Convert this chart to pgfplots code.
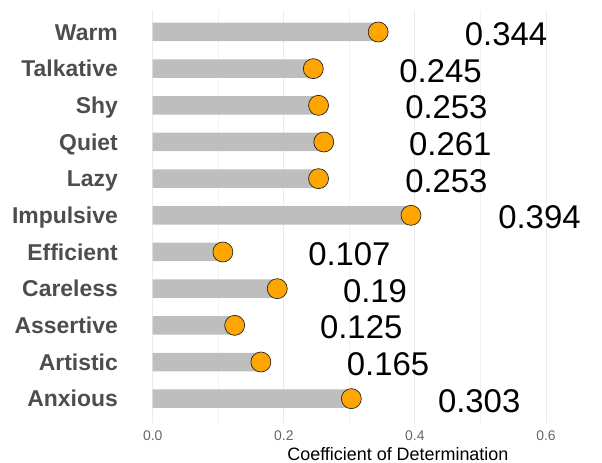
\documentclass[border=0pt]{standalone}
\usepackage{pgfplots}
\pgfplotsset{compat=1.18}
\usepackage{pgfplotstable}
\usepackage{fontspec}
\setmainfont{Liberation Sans}
\definecolor{bargray}{HTML}{BEBEBE}
\definecolor{dotorange}{HTML}{FFA500}
\definecolor{labgray}{HTML}{4D4D4D}
\definecolor{tickgray}{HTML}{666666}
\definecolor{gridgray}{HTML}{EBEBEB}
\pgfplotstableread{
y val labx lab
11 0.344 0.476 0.344
10 0.245 0.376 0.245
9 0.253 0.385 0.253
8 0.261 0.391 0.261
7 0.253 0.385 0.253
6 0.394 0.527 0.394
5 0.107 0.237 0.107
4 0.190 0.290 0.19
3 0.125 0.255 0.125
2 0.165 0.296 0.165
1 0.303 0.435 0.303
}\datatable
\begin{document}
\begin{tikzpicture}
\begin{axis}[
  scale only axis,
  width=473.5bp, height=412.5bp,
  xmin=-0.037, xmax=0.6855,
  ymin=0.35, ymax=11.6,
  clip=false,
  axis line style={draw=none},
  tick style={draw=none},
  xtick={0,0.2,0.4,0.6},
  xticklabels={0.0,0.2,0.4,0.6},
  minor xtick={0.1,0.3,0.5},
  xmajorgrids, xminorgrids,
  major grid style={color=gridgray, line width=0.9bp},
  minor grid style={color=gridgray!70, line width=0.5bp},
  ytick={1,...,11},
  yticklabels={Anxious,Artistic,Assertive,Careless,Efficient,Impulsive,Lazy,Quiet,Shy,Talkative,Warm},
  yticklabel style={anchor=base east, inner sep=0pt, xshift=-10.5bp, yshift=-8.2bp,
    font=\fontsize{23}{23}\selectfont\bfseries, text=labgray},
  xticklabel style={anchor=base, inner sep=0pt, yshift=-17.5bp,
    font=\fontsize{14}{14}\selectfont, text=tickgray},
  /pgf/number format/assume math mode=true,
  xlabel={Coefficient of Determination},
  xlabel style={at={(axis description cs:0.569,0)}, anchor=base, inner sep=0pt, yshift=-38bp,
    font=\fontsize{18}{18}\selectfont, text=black},
]
\addplot[xbar, bar width=18.5bp, fill=bargray, draw=none] table[x=val, y=y] {\datatable};
\addplot[only marks, mark=*, mark size=10bp,
  mark options={fill=dotorange, draw=black!85, line width=0.7bp}] table[x=val, y=y] {\datatable};
\addplot[draw=none, mark=none, nodes near coords, point meta=explicit symbolic,
  nodes near coords style={anchor=base west, inner sep=0pt, yshift=-13.5bp,
    font=\fontsize{33}{33}\selectfont, text=black}]
  table[x=labx, y=y, meta=lab] {\datatable};
\end{axis}
\path (current axis.south west) ++(-128.5bp,-40.5bp) coordinate (bbA);
\path (current axis.north east) ++(0,10bp) coordinate (bbB);
\path (bbA) rectangle (bbB);
\end{tikzpicture}
\end{document}
